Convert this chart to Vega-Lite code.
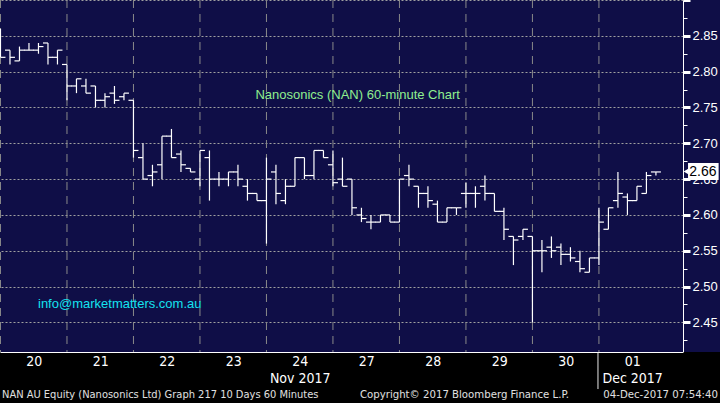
{
  "$schema": "https://vega.github.io/schema/vega-lite/v6.json",
  "width": 683,
  "height": 352,
  "autosize": "none",
  "padding": {"left": 0, "top": 0, "right": 37, "bottom": 51},
  "background": "#0f0e47",
  "config": {"view": {"stroke": null}},
  "datasets": {
    "bars": [
      {"t":"2017-11-20 10:00","i":0,"o":2.855,"h":2.86,"l":2.82,"c":2.82},
      {"t":"2017-11-20 11:00","i":1,"o":2.83,"h":2.83,"l":2.81,"c":2.82},
      {"t":"2017-11-20 12:00","i":2,"o":2.815,"h":2.835,"l":2.815,"c":2.83},
      {"t":"2017-11-20 13:00","i":3,"o":2.83,"h":2.84,"l":2.83,"c":2.83},
      {"t":"2017-11-20 14:00","i":4,"o":2.83,"h":2.84,"l":2.825,"c":2.835},
      {"t":"2017-11-20 15:00","i":5,"o":2.84,"h":2.84,"l":2.81,"c":2.82},
      {"t":"2017-11-20 16:00","i":6,"o":2.82,"h":2.83,"l":2.81,"c":2.83},
      {"t":"2017-11-21 10:00","i":7,"o":2.81,"h":2.81,"l":2.76,"c":2.78},
      {"t":"2017-11-21 11:00","i":8,"o":2.78,"h":2.79,"l":2.77,"c":2.79},
      {"t":"2017-11-21 12:00","i":9,"o":2.78,"h":2.79,"l":2.77,"c":2.77},
      {"t":"2017-11-21 13:00","i":10,"o":2.78,"h":2.78,"l":2.75,"c":2.76},
      {"t":"2017-11-21 14:00","i":11,"o":2.76,"h":2.77,"l":2.75,"c":2.765},
      {"t":"2017-11-21 15:00","i":12,"o":2.77,"h":2.78,"l":2.755,"c":2.76},
      {"t":"2017-11-21 16:00","i":13,"o":2.765,"h":2.77,"l":2.76,"c":2.77},
      {"t":"2017-11-22 10:00","i":14,"o":2.76,"h":2.76,"l":2.68,"c":2.69},
      {"t":"2017-11-22 11:00","i":15,"o":2.68,"h":2.70,"l":2.65,"c":2.65},
      {"t":"2017-11-22 12:00","i":16,"o":2.655,"h":2.67,"l":2.64,"c":2.66},
      {"t":"2017-11-22 13:00","i":17,"o":2.67,"h":2.71,"l":2.65,"c":2.71},
      {"t":"2017-11-22 14:00","i":18,"o":2.71,"h":2.72,"l":2.68,"c":2.68},
      {"t":"2017-11-22 15:00","i":19,"o":2.685,"h":2.69,"l":2.66,"c":2.67},
      {"t":"2017-11-22 16:00","i":20,"o":2.665,"h":2.665,"l":2.66,"c":2.66},
      {"t":"2017-11-23 10:00","i":21,"o":2.65,"h":2.69,"l":2.64,"c":2.69},
      {"t":"2017-11-23 11:00","i":22,"o":2.68,"h":2.69,"l":2.62,"c":2.65},
      {"t":"2017-11-23 12:00","i":23,"o":2.65,"h":2.66,"l":2.64,"c":2.65},
      {"t":"2017-11-23 13:00","i":24,"o":2.65,"h":2.66,"l":2.64,"c":2.66},
      {"t":"2017-11-23 14:00","i":25,"o":2.66,"h":2.67,"l":2.64,"c":2.65},
      {"t":"2017-11-23 15:00","i":26,"o":2.64,"h":2.65,"l":2.62,"c":2.63},
      {"t":"2017-11-23 16:00","i":27,"o":2.63,"h":2.63,"l":2.62,"c":2.62},
      {"t":"2017-11-24 10:00","i":28,"o":2.62,"h":2.68,"l":2.56,"c":2.65},
      {"t":"2017-11-24 11:00","i":29,"o":2.66,"h":2.67,"l":2.615,"c":2.63},
      {"t":"2017-11-24 12:00","i":30,"o":2.62,"h":2.65,"l":2.615,"c":2.64},
      {"t":"2017-11-24 13:00","i":31,"o":2.64,"h":2.68,"l":2.64,"c":2.68},
      {"t":"2017-11-24 14:00","i":32,"o":2.68,"h":2.68,"l":2.65,"c":2.655},
      {"t":"2017-11-24 15:00","i":33,"o":2.655,"h":2.69,"l":2.65,"c":2.69},
      {"t":"2017-11-24 16:00","i":34,"o":2.69,"h":2.69,"l":2.68,"c":2.68},
      {"t":"2017-11-27 10:00","i":35,"o":2.67,"h":2.69,"l":2.64,"c":2.645},
      {"t":"2017-11-27 11:00","i":36,"o":2.65,"h":2.68,"l":2.64,"c":2.64},
      {"t":"2017-11-27 12:00","i":37,"o":2.65,"h":2.65,"l":2.60,"c":2.61},
      {"t":"2017-11-27 13:00","i":38,"o":2.60,"h":2.61,"l":2.59,"c":2.595},
      {"t":"2017-11-27 14:00","i":39,"o":2.59,"h":2.60,"l":2.58,"c":2.59},
      {"t":"2017-11-27 15:00","i":40,"o":2.59,"h":2.60,"l":2.59,"c":2.60},
      {"t":"2017-11-27 16:00","i":41,"o":2.60,"h":2.60,"l":2.59,"c":2.59},
      {"t":"2017-11-28 10:00","i":42,"o":2.59,"h":2.65,"l":2.59,"c":2.65},
      {"t":"2017-11-28 11:00","i":43,"o":2.655,"h":2.67,"l":2.64,"c":2.65},
      {"t":"2017-11-28 12:00","i":44,"o":2.64,"h":2.64,"l":2.61,"c":2.63},
      {"t":"2017-11-28 13:00","i":45,"o":2.63,"h":2.64,"l":2.61,"c":2.62},
      {"t":"2017-11-28 14:00","i":46,"o":2.615,"h":2.62,"l":2.59,"c":2.59},
      {"t":"2017-11-28 15:00","i":47,"o":2.59,"h":2.61,"l":2.59,"c":2.61},
      {"t":"2017-11-28 16:00","i":48,"o":2.61,"h":2.61,"l":2.60,"c":2.61},
      {"t":"2017-11-29 10:00","i":49,"o":2.63,"h":2.645,"l":2.61,"c":2.63},
      {"t":"2017-11-29 11:00","i":50,"o":2.63,"h":2.64,"l":2.61,"c":2.63},
      {"t":"2017-11-29 12:00","i":51,"o":2.64,"h":2.655,"l":2.62,"c":2.63},
      {"t":"2017-11-29 13:00","i":52,"o":2.63,"h":2.63,"l":2.605,"c":2.605},
      {"t":"2017-11-29 14:00","i":53,"o":2.605,"h":2.61,"l":2.565,"c":2.58},
      {"t":"2017-11-29 15:00","i":54,"o":2.57,"h":2.57,"l":2.53,"c":2.565},
      {"t":"2017-11-29 16:00","i":55,"o":2.57,"h":2.58,"l":2.565,"c":2.58},
      {"t":"2017-11-30 10:00","i":56,"o":2.57,"h":2.57,"l":2.45,"c":2.55},
      {"t":"2017-11-30 11:00","i":57,"o":2.55,"h":2.565,"l":2.52,"c":2.55},
      {"t":"2017-11-30 12:00","i":58,"o":2.555,"h":2.57,"l":2.54,"c":2.55},
      {"t":"2017-11-30 13:00","i":59,"o":2.555,"h":2.56,"l":2.53,"c":2.545},
      {"t":"2017-11-30 14:00","i":60,"o":2.545,"h":2.555,"l":2.535,"c":2.54},
      {"t":"2017-11-30 15:00","i":61,"o":2.535,"h":2.55,"l":2.52,"c":2.525},
      {"t":"2017-11-30 16:00","i":62,"o":2.52,"h":2.54,"l":2.52,"c":2.54},
      {"t":"2017-12-01 10:00","i":63,"o":2.54,"h":2.61,"l":2.53,"c":2.59},
      {"t":"2017-12-01 11:00","i":64,"o":2.58,"h":2.61,"l":2.58,"c":2.61},
      {"t":"2017-12-01 12:00","i":65,"o":2.62,"h":2.66,"l":2.61,"c":2.63},
      {"t":"2017-12-01 13:00","i":66,"o":2.625,"h":2.63,"l":2.60,"c":2.62},
      {"t":"2017-12-01 14:00","i":67,"o":2.62,"h":2.64,"l":2.62,"c":2.64},
      {"t":"2017-12-01 15:00","i":68,"o":2.63,"h":2.66,"l":2.63,"c":2.655},
      {"t":"2017-12-01 16:00","i":69,"o":2.66,"h":2.66,"l":2.655,"c":2.66}
    ],
    "one": [{}]
  },
  "data": {"name": "bars"},
  "resolve": {"axis": {"y": "independent"}},
  "layer": [
    {
      "layer": [
        {
          "data": {"name": "one"},
          "mark": {"type": "rect", "color": "#000000"},
          "encoding": {
            "x": {"datum": -2, "type": "quantitative", "scale": {"domain": [-0.05, 71.85], "nice": false, "zero": false},
              "axis": {
                "values": [3.5, 10.5, 17.5, 24.5, 31.5, 38.5, 45.5, 52.5, 59.5, 66.5],
                "tickCount": 100,
                "labelExpr": "datum.value==3.5?'20':datum.value==10.5?'21':datum.value==17.5?'22':datum.value==24.5?'23':datum.value==31.5?['24','Nov 2017']:datum.value==38.5?'27':datum.value==45.5?'28':datum.value==52.5?'29':datum.value==59.5?'30':['01','Dec 2017']",
                "grid": false, "ticks": false, "domainColor": "#ffffff", "domainWidth": 1,
                "labelColor": "#ffffff", "labelFont": "Liberation Sans Narrow, DejaVu Sans Condensed, sans-serif",
                "labelFontSize": 14, "labelPadding": 2, "labelLineHeight": 17,
                "labelOverlap": false, "labelFlush": false, "labelBound": false, "zindex": 1, "title": null
              }},
            "x2": {"datum": 80},
            "y": {"datum": 2.4087, "type": "quantitative",
              "scale": {"domain": [2.4087, 2.9], "nice": false, "zero": false},
              "axis": {
                "orient": "right",
                "values": [2.45, 2.5, 2.55, 2.6, 2.65, 2.7, 2.75, 2.8, 2.85, 2.9],
                "tickCount": 100,
                "labelExpr": "datum.value > 2.89 ? '' : format(datum.value, '.2f')",
                "grid": true, "gridColor": "#a0a0a0", "gridDash": [2, 2], "gridWidth": 1,
                "tickColor": "#ffffff", "tickSize": 7, "tickWidth": 3,
                "domainColor": "#ffffff", "domainWidth": 1,
                "labelColor": "#ffffff", "labelFont": "Liberation Sans, Arial, sans-serif", "labelFontSize": 13,
                "labelPadding": 2, "labelOverlap": false, "labelBound": false, "labelFlush": false, "title": null
              }},
            "y2": {"datum": 2.3}
          }
        },
        {
          "transform": [{"filter": "indexof(datum.t, '10:00') > 0"}],
          "mark": {"type": "rule", "color": "#8a8a8a", "strokeWidth": 1, "strokeDash": [8, 6]},
          "encoding": {"x": {"field": "i", "type": "quantitative"}}
        },
        {
          "mark": {"type": "rule", "color": "#ffffff", "strokeWidth": 1.2},
          "encoding": {
            "x": {"field": "i", "type": "quantitative"},
            "y": {"field": "l", "type": "quantitative"},
            "y2": {"field": "h"}
          }
        },
        {
          "mark": {"type": "rule", "color": "#ffffff", "strokeWidth": 1.2, "xOffset": -5},
          "encoding": {
            "x": {"field": "i", "type": "quantitative"},
            "x2": {"field": "i"},
            "y": {"field": "o", "type": "quantitative"}
          }
        },
        {
          "mark": {"type": "rule", "color": "#ffffff", "strokeWidth": 1.2, "x2Offset": 5},
          "encoding": {
            "x": {"field": "i", "type": "quantitative"},
            "x2": {"field": "i"},
            "y": {"field": "c", "type": "quantitative"}
          }
        },
        {
          "data": {"name": "one"},
          "mark": {"type": "text", "text": "Nanosonics (NAN) 60-minute Chart", "color": "#8fef8f", "font": "Liberation Sans, Arial, sans-serif", "fontSize": 13, "align": "center", "baseline": "middle"},
          "encoding": {"x": {"datum": 37.6, "type": "quantitative"}, "y": {"datum": 2.7673, "type": "quantitative"}}
        },
        {
          "data": {"name": "one"},
          "mark": {"type": "text", "text": "info@marketmatters.com.au", "color": "#14e2f0", "font": "Liberation Sans, Arial, sans-serif", "fontSize": 13, "align": "left", "baseline": "middle"},
          "encoding": {"x": {"datum": 3.95, "type": "quantitative"}, "y": {"datum": 2.4754, "type": "quantitative"}}
        },
        {
          "data": {"name": "one"},
          "mark": {"type": "rect", "color": "#ffffff"},
          "encoding": {
            "x": {"datum": 72.38, "type": "quantitative"}, "x2": {"datum": 75.6},
            "y": {"datum": 2.6725, "type": "quantitative"}, "y2": {"datum": 2.6488}
          }
        },
        {
          "data": {"name": "one"},
          "mark": {"type": "point", "shape": "triangle-left", "filled": true, "color": "#ffffff", "opacity": 1, "size": 40},
          "encoding": {"x": {"datum": 72.2, "type": "quantitative"}, "y": {"datum": 2.6606, "type": "quantitative"}}
        },
        {
          "data": {"name": "one"},
          "mark": {"type": "text", "text": "2.66", "color": "#000000", "font": "Liberation Sans, Arial, sans-serif", "fontSize": 14, "align": "center", "baseline": "middle"},
          "encoding": {"x": {"datum": 73.95, "type": "quantitative"}, "y": {"datum": 2.6606, "type": "quantitative"}}
        },
        {
          "data": {"name": "one"},
          "mark": {"type": "rule", "color": "#e8e8e8", "strokeWidth": 1},
          "encoding": {
            "x": {"datum": 62.9, "type": "quantitative"},
            "y": {"datum": 2.4087, "type": "quantitative"}, "y2": {"datum": 2.357}
          }
        },
        {
          "data": {"name": "one"},
          "mark": {"type": "text", "text": "NAN AU Equity (Nanosonics Ltd) Graph 217 10 Days 60 Minutes", "color": "#e0e0e0", "font": "Liberation Sans Narrow, DejaVu Sans Condensed, sans-serif", "fontSize": 11, "align": "left", "baseline": "middle"},
          "encoding": {"x": {"datum": 0.16, "type": "quantitative"}, "y": {"datum": 2.3487, "type": "quantitative"}}
        },
        {
          "data": {"name": "one"},
          "mark": {"type": "text", "text": "Copyright© 2017 Bloomberg Finance L.P.", "color": "#e0e0e0", "font": "Liberation Sans Narrow, DejaVu Sans Condensed, sans-serif", "fontSize": 11.3, "align": "left", "baseline": "middle"},
          "encoding": {"x": {"datum": 37.84, "type": "quantitative"}, "y": {"datum": 2.3487, "type": "quantitative"}}
        },
        {
          "data": {"name": "one"},
          "mark": {"type": "text", "text": "04-Dec-2017 07:54:40", "color": "#e0e0e0", "font": "Liberation Sans Narrow, DejaVu Sans Condensed, sans-serif", "fontSize": 11.3, "align": "right", "baseline": "middle"},
          "encoding": {"x": {"datum": 75.53, "type": "quantitative"}, "y": {"datum": 2.3487, "type": "quantitative"}}
        }
      ]
    },
    {
      "data": {"name": "one"},
      "mark": {"type": "rule", "opacity": 0},
      "encoding": {
        "y": {"datum": 2.5, "type": "quantitative",
          "axis": {
            "orient": "right",
            "values": [2.425, 2.475, 2.525, 2.575, 2.625, 2.675, 2.725, 2.775, 2.825, 2.875],
            "tickCount": 100,
            "labels": false, "grid": false, "domain": false,
            "tickColor": "#ffffff", "tickSize": 4, "tickWidth": 1, "title": null
          }}
      }
    }
  ]
}
